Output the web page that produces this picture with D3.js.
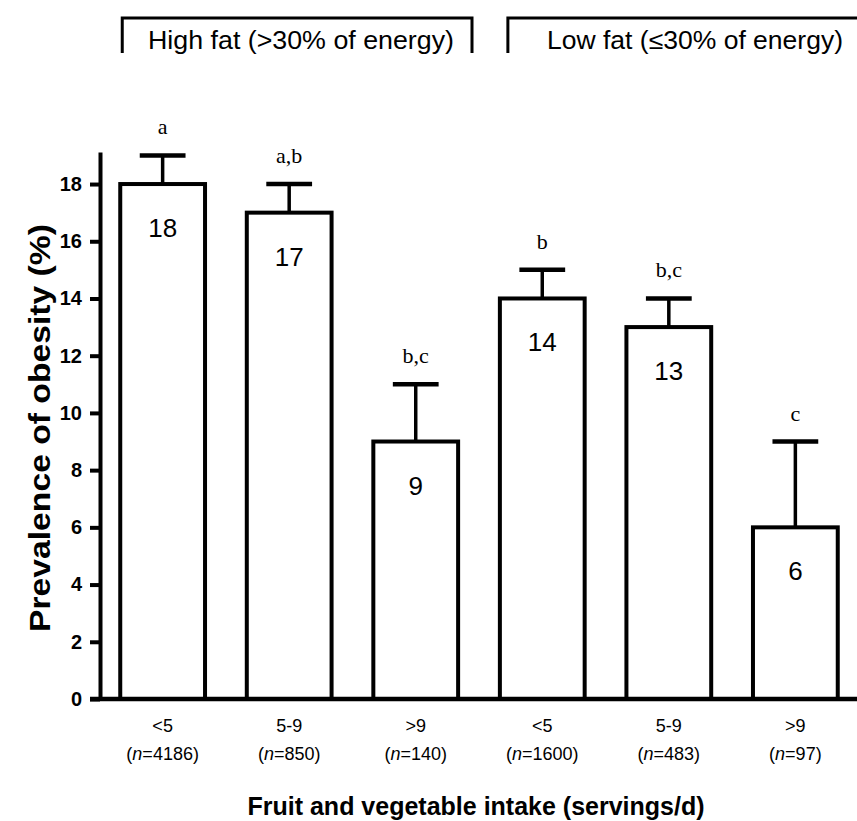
<!DOCTYPE html>
<html>
<head>
  <meta charset="utf-8">
  <title>Prevalence of obesity by fruit and vegetable intake</title>
  <script src="https://d3js.org/d3.v7.min.js"></script>
  <style>
    body { margin: 0; background: #fff; }
    svg { display: block; }
  </style>
</head>
<body>
<div id="chart"></div>
<script>
  // values
  const groups = ["High fat (>30% of energy)", "Low fat (\u226430% of energy)"];
  const intake = ["<5", "5-9", ">9", "<5", "5-9", ">9"];
  const nValues = [4186, 850, 140, 1600, 483, 97];
  const groupOf = [0, 0, 0, 1, 1, 1];
  const prevalence = [18, 17, 9, 14, 13, 6];
  const upper = [19, 18, 11, 15, 14, 9];
  const letters = ["a", "a,b", "b,c", "b", "b,c", "c"];
  const yTicks = [0, 2, 4, 6, 8, 10, 12, 14, 16, 18];

  const width = 857, height = 821;
  const x0 = 100, x1 = 858, yBottom = 699, yTop = 152;

  const svg = d3.select("#chart").append("svg")
    .attr("width", width)
    .attr("height", height);

  const ids = intake.map((d, i) => i);

  const x = d3.scaleBand()
    .domain(ids)
    .range([x0, x1])
    .paddingInner(0.33)
    .paddingOuter(0.16);

  const y = d3.scaleLinear()
    .domain([0, 19.12])
    .range([yBottom, yTop]);

  // y axis
  const yAxis = svg.append("g")
    .attr("transform", `translate(${x0},0)`)
    .call(d3.axisLeft(y).tickValues(yTicks).tickSize(10).tickPadding(8).tickSizeOuter(0));
  yAxis.select(".domain").attr("stroke", "#000").attr("stroke-width", 4);
  yAxis.selectAll(".tick line").attr("stroke", "#000").attr("stroke-width", 4);
  yAxis.selectAll(".tick text")
    .attr("font-family", "Liberation Sans, Arial, sans-serif")
    .attr("font-weight", "bold")
    .attr("font-size", 20)
    .attr("fill", "#000");

  // bars
  svg.selectAll("rect.bar")
    .data(ids)
    .join("rect")
    .attr("class", "bar")
    .attr("x", i => x(i))
    .attr("y", i => y(prevalence[i]))
    .attr("width", x.bandwidth())
    .attr("height", i => y(0) - y(prevalence[i]))
    .attr("fill", "#fff")
    .attr("stroke", "#000")
    .attr("stroke-width", 4);

  // error bars
  const capW = x.bandwidth() * 0.54;
  svg.selectAll("line.stem")
    .data(ids)
    .join("line")
    .attr("x1", i => x(i) + x.bandwidth() / 2)
    .attr("x2", i => x(i) + x.bandwidth() / 2)
    .attr("y1", i => y(prevalence[i]))
    .attr("y2", i => y(upper[i]))
    .attr("stroke", "#000")
    .attr("stroke-width", 3.5);
  svg.selectAll("line.cap")
    .data(ids)
    .join("line")
    .attr("x1", i => x(i) + x.bandwidth() / 2 - capW / 2)
    .attr("x2", i => x(i) + x.bandwidth() / 2 + capW / 2)
    .attr("y1", i => y(upper[i]))
    .attr("y2", i => y(upper[i]))
    .attr("stroke", "#000")
    .attr("stroke-width", 4.5);

  // x axis line
  svg.append("line")
    .attr("x1", x0 - 10).attr("x2", width)
    .attr("y1", y(0)).attr("y2", y(0))
    .attr("stroke", "#000")
    .attr("stroke-width", 4.5);

  // values inside bars
  svg.selectAll("text.val")
    .data(ids)
    .join("text")
    .attr("x", i => x(i) + x.bandwidth() / 2)
    .attr("y", i => y(prevalence[i]) + 53)
    .attr("text-anchor", "middle")
    .attr("font-family", "Liberation Sans, Arial, sans-serif")
    .attr("font-size", 26)
    .text(i => prevalence[i]);

  // significance letters
  svg.selectAll("text.sig")
    .data(ids)
    .join("text")
    .attr("x", i => x(i) + x.bandwidth() / 2)
    .attr("y", i => y(upper[i]) - 21)
    .attr("text-anchor", "middle")
    .attr("font-family", "Liberation Serif, Times New Roman, serif")
    .attr("font-size", 22)
    .text(i => letters[i]);

  // x category labels
  const xl = svg.selectAll("g.xlab")
    .data(ids)
    .join("g")
    .attr("transform", i => `translate(${x(i) + x.bandwidth() / 2},0)`)
    .attr("font-family", "Liberation Sans, Arial, sans-serif")
    .attr("font-size", 18)
    .attr("text-anchor", "middle");
  xl.append("text").attr("y", 732).text(i => intake[i]);
  const nt = xl.append("text").attr("y", 760);
  nt.append("tspan").text("(");
  nt.append("tspan").attr("font-style", "italic").text("n");
  nt.append("tspan").text(i => "=" + nValues[i] + ")");

  // axis titles
  svg.append("text")
    .attr("transform", "translate(50,428) rotate(-90)")
    .attr("text-anchor", "middle")
    .attr("font-family", "Liberation Sans, Arial, sans-serif")
    .attr("font-weight", "bold")
    .attr("font-size", 30)
    .attr("textLength", 408)
    .attr("lengthAdjust", "spacingAndGlyphs")
    .text("Prevalence of obesity (%)");

  svg.append("text")
    .attr("x", 476)
    .attr("y", 815)
    .attr("text-anchor", "middle")
    .attr("font-family", "Liberation Sans, Arial, sans-serif")
    .attr("font-weight", "bold")
    .attr("font-size", 25)
    .text("Fruit and vegetable intake (servings/d)");

  // group header brackets
  const brackets = [
    { left: x(0) + 2, right: 472, cx: 301, len: 306 },
    { left: x(3) + 8, right: width + 5, cx: 695, len: 296 }
  ];
  groups.forEach((g, gi) => {
    const b = brackets[gi];
    svg.append("path")
      .attr("d", `M${b.left},53V18H${b.right}V53`)
      .attr("fill", "none")
      .attr("stroke", "#000")
      .attr("stroke-width", 3);
    svg.append("text")
      .attr("x", b.cx)
      .attr("y", 49)
      .attr("text-anchor", "middle")
      .attr("font-family", "Liberation Sans, Arial, sans-serif")
      .attr("font-size", 25)
      .attr("textLength", b.len)
      .attr("lengthAdjust", "spacingAndGlyphs")
      .text(g);
  });
</script>
</body>
</html>
